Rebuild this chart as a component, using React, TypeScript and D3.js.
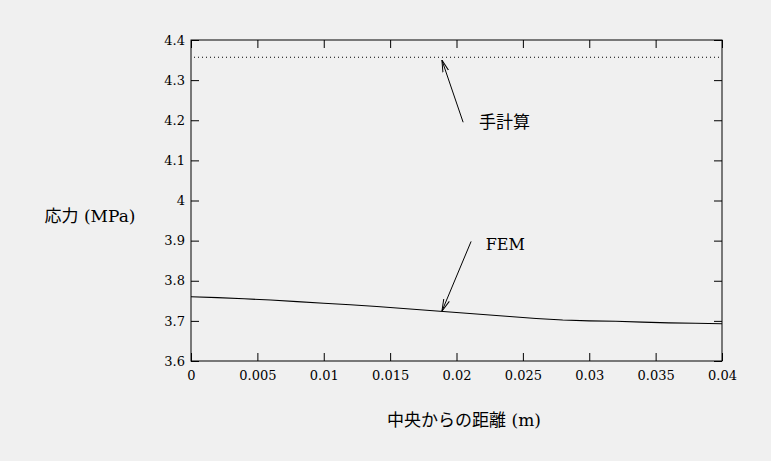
import React, { useRef, useEffect } from "react";
import * as d3 from "d3";

// distance from centre (m) and FEM stress (MPa)
const distance = [0, 0.002, 0.004, 0.006, 0.008, 0.01, 0.012, 0.014, 0.016, 0.018, 0.02,
  0.022, 0.024, 0.026, 0.028, 0.03, 0.032, 0.034, 0.036, 0.038, 0.04];
const femStress = [3.76, 3.758, 3.755, 3.752, 3.748, 3.744, 3.74, 3.736, 3.731, 3.726, 3.721,
  3.716, 3.711, 3.706, 3.702, 3.7, 3.699, 3.697, 3.695, 3.694, 3.693];
const handCalc = 4.357;

const xTicks = [0, 0.005, 0.01, 0.015, 0.02, 0.025, 0.03, 0.035, 0.04];
const yTicks = [3.6, 3.7, 3.8, 3.9, 4.0, 4.1, 4.2, 4.3, 4.4];

const serif = "DejaVu Serif, Liberation Serif, Times New Roman, serif";
const jp = "DejaVu Serif, Noto Sans CJK JP, serif";

export default function App() {
  const svgRef = useRef<SVGSVGElement>(null);

  useEffect(() => {
    document.body.style.margin = "0";
    document.body.style.background = "#f0f0f0";

    const width = 771;
    const height = 461;
    const marginLeft = 191;
    const marginRight = 49;
    const marginTop = 40;
    const marginBottom = 100;

    const x = d3.scaleLinear().domain([0, 0.04]).range([marginLeft, width - marginRight]);
    const y = d3.scaleLinear().domain([3.6, 4.4]).range([height - marginBottom, marginTop]);

    const svg = d3.select(svgRef.current!);
    svg.selectAll("*").remove();
    svg.attr("width", width).attr("height", height).style("display", "block");

    svg.append("rect").attr("width", width).attr("height", height).attr("fill", "#f0f0f0");

    const defs = svg.append("defs");
    defs.append("marker")
      .attr("id", "head")
      .attr("viewBox", "0 0 12 8")
      .attr("refX", 12).attr("refY", 4)
      .attr("markerWidth", 12).attr("markerHeight", 8)
      .attr("markerUnits", "userSpaceOnUse")
      .attr("orient", "auto")
      .append("path")
      .attr("d", "M0,1 L12,4 L0,7")
      .attr("fill", "none")
      .attr("stroke", "#000")
      .attr("stroke-width", 1);

    const tickLen = 8;
    const fmtX = (d: number) => (d === 0 ? "0" : String(d));
    const fmtY = (d: number) => (d === 4 ? "4" : d3.format(".1f")(d));

    // bottom / top ticks
    svg.append("g")
      .attr("transform", `translate(0,${y(3.6)})`)
      .call(d3.axisBottom(x).tickValues(xTicks).tickSize(-tickLen).tickPadding(10).tickFormat(fmtX as any))
      .call(g => g.select(".domain").remove())
      .call(g => g.attr("font-family", serif).attr("font-size", 13))
      .call(g => g.selectAll("text").attr("fill", "#000"));
    svg.append("g")
      .attr("transform", `translate(0,${y(4.4)})`)
      .call(d3.axisTop(x).tickValues(xTicks).tickSize(-tickLen).tickFormat(() => ""))
      .call(g => g.select(".domain").remove());

    // left / right ticks
    svg.append("g")
      .attr("transform", `translate(${x(0)},0)`)
      .call(d3.axisLeft(y).tickValues(yTicks).tickSize(-tickLen).tickPadding(6).tickFormat(fmtY as any))
      .call(g => g.select(".domain").remove())
      .call(g => g.attr("font-family", serif).attr("font-size", 13))
      .call(g => g.selectAll("text").attr("fill", "#000"));
    svg.append("g")
      .attr("transform", `translate(${x(0.04)},0)`)
      .call(d3.axisRight(y).tickValues(yTicks).tickSize(-tickLen).tickFormat(() => ""))
      .call(g => g.select(".domain").remove());

    svg.selectAll(".tick line").attr("stroke", "#000");

    // frame
    svg.append("rect")
      .attr("x", x(0)).attr("y", y(4.4))
      .attr("width", x(0.04) - x(0)).attr("height", y(3.6) - y(4.4))
      .attr("fill", "none").attr("stroke", "#000").attr("stroke-width", 1);

    // hand calculation (dotted)
    svg.append("line")
      .attr("x1", x(0) + 3).attr("x2", x(0.04))
      .attr("y1", y(handCalc)).attr("y2", y(handCalc))
      .attr("stroke", "#000").attr("stroke-width", 1)
      .attr("stroke-dasharray", "1,3");

    // FEM line
    const line = d3.line<number>()
      .x((_, i) => x(distance[i]))
      .y(d => y(d));
    svg.append("path")
      .datum(femStress)
      .attr("d", line)
      .attr("fill", "none")
      .attr("stroke", "#000")
      .attr("stroke-width", 1.1);

    // annotations
    svg.append("line")
      .attr("x1", x(0.0205)).attr("y1", y(4.195))
      .attr("x2", x(0.0189)).attr("y2", y(4.35))
      .attr("stroke", "#000").attr("marker-end", "url(#head)");
    svg.append("text")
      .attr("x", x(0.0217)).attr("y", y(4.18))
      .attr("font-family", jp).attr("font-size", 17).attr("fill", "#000")
      .text("手計算");

    svg.append("line")
      .attr("x1", x(0.0211)).attr("y1", y(3.898))
      .attr("x2", x(0.0189)).attr("y2", y(3.724))
      .attr("stroke", "#000").attr("marker-end", "url(#head)");
    svg.append("text")
      .attr("x", x(0.0222)).attr("y", y(3.876))
      .attr("font-family", serif).attr("font-size", 16).attr("fill", "#000")
      .text("FEM");

    // axis titles
    svg.append("text")
      .attr("x", 90).attr("y", 222)
      .attr("text-anchor", "middle")
      .attr("font-family", jp).attr("font-size", 17).attr("fill", "#000")
      .text("応力 (MPa)");
    svg.append("text")
      .attr("x", 464).attr("y", 426)
      .attr("text-anchor", "middle")
      .attr("font-family", jp).attr("font-size", 17).attr("fill", "#000")
      .text("中央からの距離 (m)");
  }, []);

  return (
    <div>
      <svg ref={svgRef}></svg>
    </div>
  );
}
